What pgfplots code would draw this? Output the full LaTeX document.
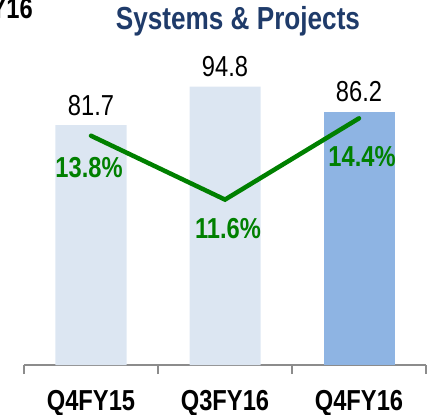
\documentclass[border=0pt]{standalone}
\usepackage{fontspec}
\setmainfont[FakeStretch=0.82]{Liberation Sans}
\usepackage{pgfplots}
\pgfplotsset{compat=1.18}

\definecolor{barlight}{HTML}{DCE6F2}
\definecolor{barblue}{HTML}{8EB4E3}
\definecolor{titleblue}{HTML}{1F3B6A}
\definecolor{margin}{HTML}{008000}
\definecolor{axisgray}{HTML}{8C8C8C}

\begin{document}
\begin{tikzpicture}
  % revenue bars
  \begin{axis}[
    scale only axis,
    width=402bp, height=325bp,
    xmin=0.5, xmax=3.5,
    ymin=0, ymax=110.7,
    axis x line*=bottom,
    axis y line=none,
    axis line style={axisgray, line width=1.5bp, -},
    xtick={1,2,3},
    xticklabels={Q4FY15,Q3FY16,Q4FY16},
    major tick length=0pt,
    minor xtick={0.5,1.5,2.5,3.5},
    minor tick length=9bp,
    tick align=outside,
    minor tick style={axisgray, line width=1.5bp},
    xticklabel style={font=\fontsize{29}{32}\selectfont\bfseries,
      anchor=base, yshift=-45bp, inner sep=0pt},
    /pgf/number format/assume math mode=true,
    ybar, bar width=71bp, bar shift=0pt,
    nodes near coords,
    every node near coord/.append style={font=\fontsize{29}{32}\selectfont,
      anchor=base, yshift=10bp, inner sep=0pt, text=black},
    clip=false,
  ]
  \addplot[fill=barlight, draw=none] coordinates {(1,81.7) (2,94.8)};
  \addplot[fill=barblue, draw=none] coordinates {(3,86.2)};
  \end{axis}

  % margin line
  \begin{axis}[
    scale only axis,
    width=402bp, height=325bp,
    xmin=0.5, xmax=3.5,
    ymin=5.9, ymax=17.1,
    hide axis,
    clip=false,
    /pgf/number format/assume math mode=true,
  ]
  \addplot[margin, line width=4.5bp, line cap=round,
    nodes near coords={\pgfmathprintnumber[fixed,precision=1,fixed zerofill]{\pgfplotspointmeta}\%},
    point meta=explicit,
    visualization depends on={\thisrow{dx} \as \dx},
    visualization depends on={\thisrow{dy} \as \dy},
    every node near coord/.append style={font=\fontsize{29}{32}\selectfont\bfseries,
      text=margin, anchor=base, inner sep=0pt, xshift=\dx bp, yshift=\dy bp},
  ] table[meta=m] {
    x y m dx dy
    1 13.8 13.8 -2 -42
    2 11.6 11.6 3 -39
    3 14.4 14.4 3 -48
  };
  \end{axis}

  \node[anchor=base, text=titleblue, font=\fontsize{32}{36}\selectfont\bfseries,
    inner sep=0pt] at (214bp,335bp) {Systems \& Projects};
  \node[anchor=base east, font=\fontsize{29}{32}\selectfont\bfseries,
    inner sep=0pt] at (9bp,346bp) {FY16};

  \pgfresetboundingbox
  \path[use as bounding box] (-24bp,-50bp) rectangle (405bp,365bp);
\end{tikzpicture}
\end{document}
